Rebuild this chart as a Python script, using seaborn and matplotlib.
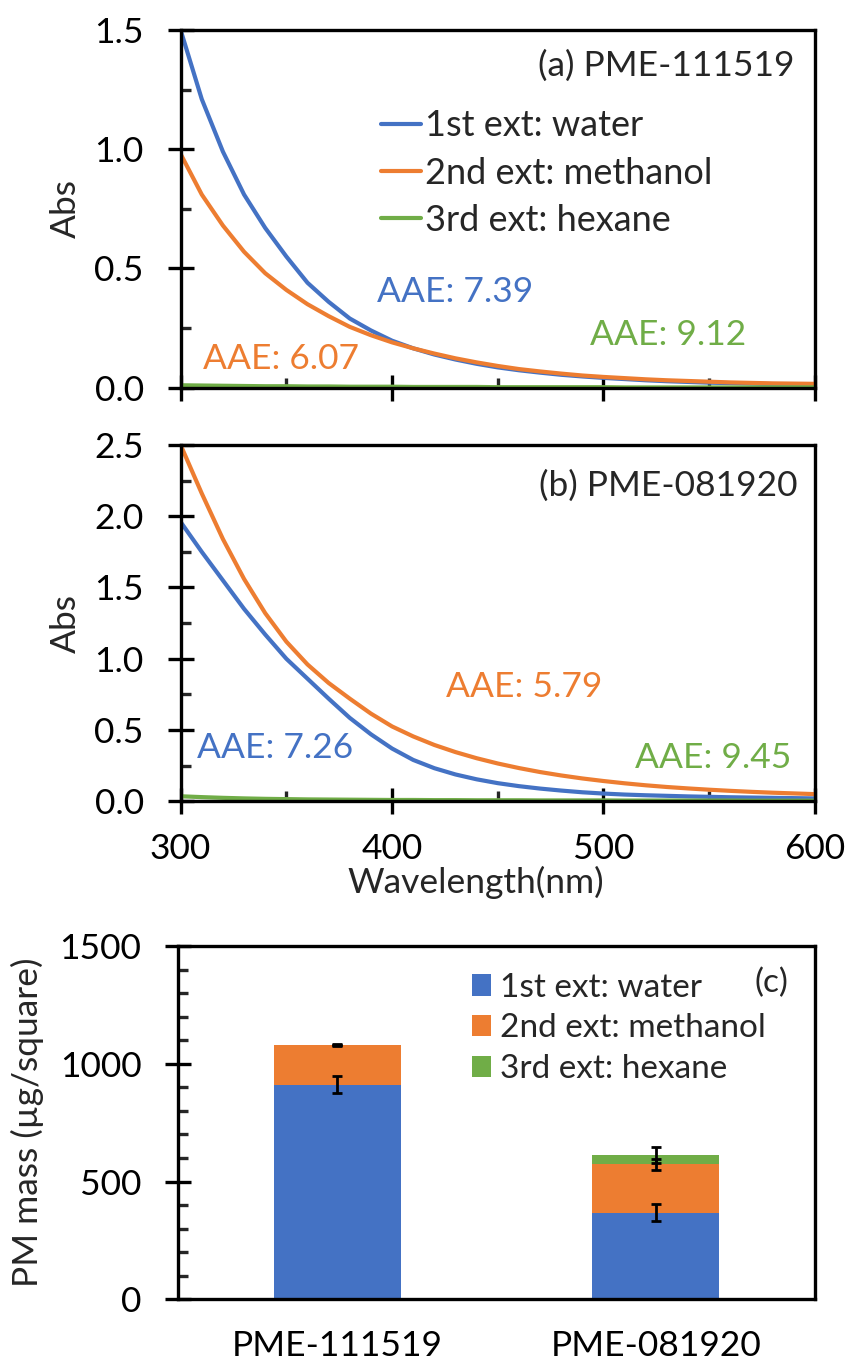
import numpy as np
import pandas as pd
import matplotlib
matplotlib.use("Agg")
import matplotlib.pyplot as plt
import seaborn as sns
from matplotlib.ticker import MultipleLocator, FormatStrFormatter
from matplotlib.lines import Line2D
from matplotlib.patches import Patch

# ---------------- data ----------------
wavelength = [300, 310, 320, 330, 340, 350, 360, 370, 380, 390, 400,
              410, 420, 430, 440, 450, 460, 470, 480, 490, 500,
              510, 520, 530, 540, 550, 560, 570, 580, 590, 600]

a_water = [1.50, 1.21, 0.99, 0.81, 0.67, 0.55, 0.44, 0.36, 0.29, 0.24, 0.197,
           0.165, 0.139, 0.118, 0.100, 0.085, 0.073, 0.063, 0.054, 0.047, 0.041,
           0.036, 0.031, 0.027, 0.024, 0.021, 0.019, 0.017, 0.015, 0.014, 0.013]
a_methanol = [0.98, 0.81, 0.68, 0.57, 0.48, 0.41, 0.35, 0.30, 0.255, 0.22, 0.19,
              0.165, 0.143, 0.123, 0.106, 0.091, 0.078, 0.068, 0.059, 0.051, 0.045,
              0.040, 0.035, 0.031, 0.028, 0.025, 0.022, 0.020, 0.018, 0.017, 0.016]
a_hexane = [0.010, 0.009, 0.008, 0.007, 0.006, 0.006, 0.005, 0.005, 0.004, 0.004, 0.004,
            0.003, 0.003, 0.003, 0.003, 0.002, 0.002, 0.002, 0.002, 0.002, 0.002,
            0.001, 0.001, 0.001, 0.001, 0.001, 0.001, 0.001, 0.001, 0.001, 0.001]

b_water = [1.96, 1.75, 1.55, 1.35, 1.17, 1.00, 0.86, 0.72, 0.585, 0.47, 0.37,
           0.29, 0.232, 0.188, 0.154, 0.127, 0.106, 0.089, 0.075, 0.063, 0.054,
           0.047, 0.042, 0.038, 0.034, 0.031, 0.028, 0.026, 0.024, 0.022, 0.020]
b_methanol = [2.50, 2.16, 1.84, 1.56, 1.32, 1.12, 0.96, 0.83, 0.72, 0.615, 0.525,
              0.455, 0.395, 0.345, 0.302, 0.265, 0.233, 0.205, 0.181, 0.160, 0.142,
              0.126, 0.112, 0.100, 0.090, 0.081, 0.073, 0.066, 0.060, 0.055, 0.050]
b_hexane = [0.035, 0.029, 0.024, 0.020, 0.017, 0.015, 0.013, 0.012, 0.011, 0.010, 0.009,
            0.009, 0.008, 0.008, 0.007, 0.007, 0.007, 0.006, 0.006, 0.006, 0.006,
            0.005, 0.005, 0.005, 0.005, 0.005, 0.005, 0.004, 0.004, 0.004, 0.004]

series_labels = ["1st ext: water", "2nd ext: methanol", "3rd ext: hexane"]
aae_a = ["AAE: 7.39", "AAE: 6.07", "AAE: 9.12"]
aae_b = ["AAE: 7.26", "AAE: 5.79", "AAE: 9.45"]

samples = ["PME-111519", "PME-081920"]
mass_water = [912, 369]
mass_methanol = [166, 204]
mass_hexane = [0, 41]
err_water = [36, 35]
err_methanol = [4, 25]
err_hexane = [0, 34]

colors = ["#4472C4", "#ED7D31", "#70AD47"]

# ---------------- style ----------------
sns.set_theme(style="white")
plt.rcParams['font.family'] = ['Lato', 'DejaVu Sans']
FS = 25.5
SPW = 2.4

fig = plt.figure(figsize=(8.48, 13.65), dpi=100)
axA = fig.add_axes([0.213, 0.716, 0.748, 0.262])
axB = fig.add_axes([0.213, 0.413, 0.748, 0.261])
axC = fig.add_axes([0.210, 0.048, 0.751, 0.259])


def long_df(w, m, h):
    return pd.DataFrame({
        "wl": wavelength * 3,
        "abs": list(w) + list(m) + list(h),
        "series": [series_labels[0]] * len(w) + [series_labels[1]] * len(m) + [series_labels[2]] * len(h),
    })


def style_axes(ax):
    for s in ax.spines.values():
        s.set_linewidth(SPW)
        s.set_color("black")
        s.set_visible(True)
    ax.tick_params(which="major", direction="inout", length=19, width=SPW,
                   labelsize=FS, colors="black", bottom=True, left=True, top=False, right=False)
    ax.tick_params(which="minor", direction="in", length=7, width=SPW,
                   bottom=True, left=True, top=False, right=False)
    ax.tick_params(axis="y", which="major", pad=17)


palette = dict(zip(series_labels, colors))

for ax, (w, m, h), ymax, ymaj in [(axA, (a_water, a_methanol, a_hexane), 1.5, 0.5),
                                  (axB, (b_water, b_methanol, b_hexane), 2.5, 0.5)]:
    df = long_df(w, m, h)
    sns.lineplot(data=df, x="wl", y="abs", hue="series", hue_order=series_labels,
                 palette=palette, linewidth=3, ax=ax, legend=False)
    ax.set_xlim(300, 600)
    ax.set_ylim(0, ymax)
    ax.xaxis.set_major_locator(MultipleLocator(100))
    ax.xaxis.set_minor_locator(MultipleLocator(50))
    ax.yaxis.set_major_locator(MultipleLocator(ymaj))
    ax.yaxis.set_minor_locator(MultipleLocator(ymaj / 2))
    ax.yaxis.set_major_formatter(FormatStrFormatter("%.1f"))
    style_axes(ax)
    ax.set_ylabel("Abs", fontsize=FS)
    ax.yaxis.set_label_coords(-0.155, 0.5)
    ax.set_xlabel("")

axA.tick_params(axis="x", labelbottom=False)
axB.tick_params(axis="x", which="major", pad=13)
axB.set_xlabel("Wavelength(nm)", fontsize=FS)
axB.xaxis.set_label_coords(0.466, -0.18)

# panel titles and AAE annotations
axA.text(0.968, 0.899, "(a) PME-111519", transform=axA.transAxes, ha="right", va="center", fontsize=FS)
axA.text(0.309, 0.268, aae_a[0], transform=axA.transAxes, ha="left", va="center", fontsize=FS, color=colors[0])
axA.text(0.035, 0.081, aae_a[1], transform=axA.transAxes, ha="left", va="center", fontsize=FS, color=colors[1])
axA.text(0.645, 0.148, aae_a[2], transform=axA.transAxes, ha="left", va="center", fontsize=FS, color=colors[2])

axB.text(0.972, 0.887, "(b) PME-081920", transform=axB.transAxes, ha="right", va="center", fontsize=FS)
axB.text(0.026, 0.150, aae_b[0], transform=axB.transAxes, ha="left", va="center", fontsize=FS, color=colors[0])
axB.text(0.418, 0.322, aae_b[1], transform=axB.transAxes, ha="left", va="center", fontsize=FS, color=colors[1])
axB.text(0.716, 0.122, aae_b[2], transform=axB.transAxes, ha="left", va="center", fontsize=FS, color=colors[2])

handles = [Line2D([0], [0], color=c, lw=3) for c in colors]
axA.legend(handles, series_labels, loc="upper left", bbox_to_anchor=(0.316, 0.778),
           frameon=False, fontsize=26, handlelength=1.1, handletextpad=0.13,
           labelspacing=0.39, borderpad=0, borderaxespad=0)

# ---------------- panel (c): stacked bars ----------------
cum1 = np.array(mass_water, dtype=float)
cum2 = cum1 + np.array(mass_methanol)
cum3 = cum2 + np.array(mass_hexane)
bar_df = pd.DataFrame({"sample": samples, "water": cum1, "methanol": cum2, "hexane": cum3})

sns.barplot(data=bar_df, x="sample", y="hexane", color=colors[2], saturation=1,
            width=0.40, ax=axC, edgecolor="none")
sns.barplot(data=bar_df, x="sample", y="methanol", color=colors[1], saturation=1,
            width=0.40, ax=axC, edgecolor="none")
sns.barplot(data=bar_df, x="sample", y="water", color=colors[0], saturation=1,
            width=0.40, ax=axC, edgecolor="none")

xpos = np.arange(len(samples))
for top, err in [(cum1, err_water), (cum2, err_methanol), (cum3, err_hexane)]:
    axC.errorbar(xpos, top, yerr=err, fmt="none", ecolor="black", elinewidth=2,
                 capsize=3.5, capthick=2, zorder=5)

axC.set_xlim(-0.5, 1.5)
axC.set_ylim(0, 1500)
axC.yaxis.set_major_locator(MultipleLocator(500))
axC.yaxis.set_minor_locator(MultipleLocator(100))
style_axes(axC)
axC.tick_params(axis="x", which="both", length=0, pad=22, labelsize=FS)
axC.set_xlabel("")
axC.set_ylabel("PM mass (µg/square)", fontsize=FS)
axC.yaxis.set_label_coords(-0.211, 0.5)

phandles = [Patch(facecolor=c, edgecolor="none") for c in colors]
axC.legend(phandles, series_labels, loc="upper left", bbox_to_anchor=(0.4615, 0.924),
           frameon=False, fontsize=24, handlelength=0.57, handleheight=0.6,
           handletextpad=0.27, labelspacing=0.32, borderpad=0, borderaxespad=0)
axC.text(0.932, 0.895, "(c)", transform=axC.transAxes, ha="center", va="center", fontsize=24)

fig.savefig("out.png", dpi=100)
